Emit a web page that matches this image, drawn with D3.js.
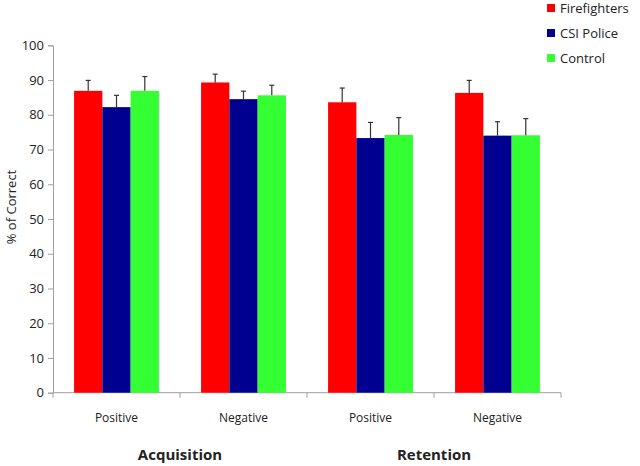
<!DOCTYPE html>
<html><head><meta charset="utf-8">
<script src="https://cdn.jsdelivr.net/npm/d3@7"></script>
<style>body{margin:0;background:#fff}svg{display:block}text{font-family:"Open Sans","Noto Sans",sans-serif;fill:#222}</style>
</head><body><svg id="c" width="640" height="466"></svg>
<script>
const categories = ["Positive","Negative","Positive","Negative"];
const phases = ["Acquisition","Retention"];
const series = ["Firefighters","CSI Police","Control"];
const colors = ["#ff0000","#000090","#33ff33"];
const firefighters = [86.9, 89.3, 83.6, 86.3];
const csiPolice = [82.2, 84.5, 73.3, 74.0];
const control = [86.9, 85.6, 74.2, 74.1];
const errFirefighters = [3.0, 2.4, 4.1, 3.6];
const errCsiPolice = [3.4, 2.3, 4.5, 4.0];
const errControl = [4.1, 2.9, 5.0, 4.8];
const yTicks = [0,10,20,30,40,50,60,70,80,90,100];

(function(){
const values = [firefighters, csiPolice, control];
const errs = [errFirefighters, errCsiPolice, errControl];
const svg = d3.select("#c");
const mLeft = 53, mRight = 561, mTop = 45.3, mBottom = 392.7;
const x0 = d3.scaleBand().domain(d3.range(categories.length)).range([mLeft, mRight]).paddingInner(0).paddingOuter(0);
const x1 = d3.scaleBand().domain(d3.range(series.length)).range([0, x0.bandwidth()]).paddingOuter(0.745).paddingInner(0);
const y = d3.scaleLinear().domain([0,100]).range([mBottom, mTop]);

const yAxis = svg.append("g").attr("transform", `translate(${mLeft},0)`)
  .call(d3.axisLeft(y).tickValues(yTicks).tickSize(5).tickPadding(4));
yAxis.select(".domain").attr("stroke","#a0a0a0");
yAxis.selectAll(".tick line").attr("stroke","#a0a0a0");
yAxis.selectAll(".tick text").attr("font-size","13px").attr("fill","#222").style("font-family",'"Open Sans","Noto Sans",sans-serif');

const xg = svg.append("g");
xg.append("line").attr("x1", mLeft).attr("x2", mRight).attr("y1", mBottom).attr("y2", mBottom).attr("stroke","#a0a0a0");
d3.range(categories.length+1).forEach(i=>{
  const xx = mLeft + i*x0.bandwidth();
  xg.append("line").attr("x1",xx).attr("x2",xx).attr("y1",mBottom).attr("y2",mBottom+5).attr("stroke","#a0a0a0");
});
categories.forEach((c,i)=>{
  xg.append("text").attr("x", x0(i)+x0.bandwidth()/2).attr("y", 422).attr("text-anchor","middle")
    .attr("font-size","12px").text(c);
});
phases.forEach((p,i)=>{
  const cx = (x0(2*i) + x0(2*i+1)+x0.bandwidth())/2;
  svg.append("text").attr("x", cx).attr("y", 460).attr("text-anchor","middle")
    .attr("font-size","15px").attr("font-weight","bold").text(p);
});

series.forEach((s,si)=>{
  const g = svg.append("g");
  categories.forEach((c,ci)=>{
    const bx = x0(ci)+x1(si);
    g.append("rect").attr("x", bx).attr("y", y(values[si][ci])).attr("width", x1.bandwidth())
      .attr("height", y(0)-y(values[si][ci])).attr("fill", colors[si]);
    const cx = bx + x1.bandwidth()/2;
    const t2 = y(values[si][ci] + errs[si][ci]);
    g.append("line").attr("x1",cx).attr("x2",cx).attr("y1",y(values[si][ci])).attr("y2",t2).attr("stroke","#333").attr("stroke-width",1.2);
    g.append("line").attr("x1",cx-2.5).attr("x2",cx+2.5).attr("y1",t2).attr("y2",t2).attr("stroke","#333").attr("stroke-width",1.2);
  });
});

svg.append("text").attr("transform","translate(16,207) rotate(-90)").attr("text-anchor","middle")
  .attr("font-size","13px").text("% of Correct");

series.forEach((s,i)=>{
  const ly = 8 + i*25;
  svg.append("rect").attr("x",547).attr("y",ly-4).attr("width",8).attr("height",8).attr("fill",colors[i]);
  svg.append("text").attr("x",560).attr("y",ly+5).attr("font-size","13px").text(s);
});
})();
</script></body></html>
